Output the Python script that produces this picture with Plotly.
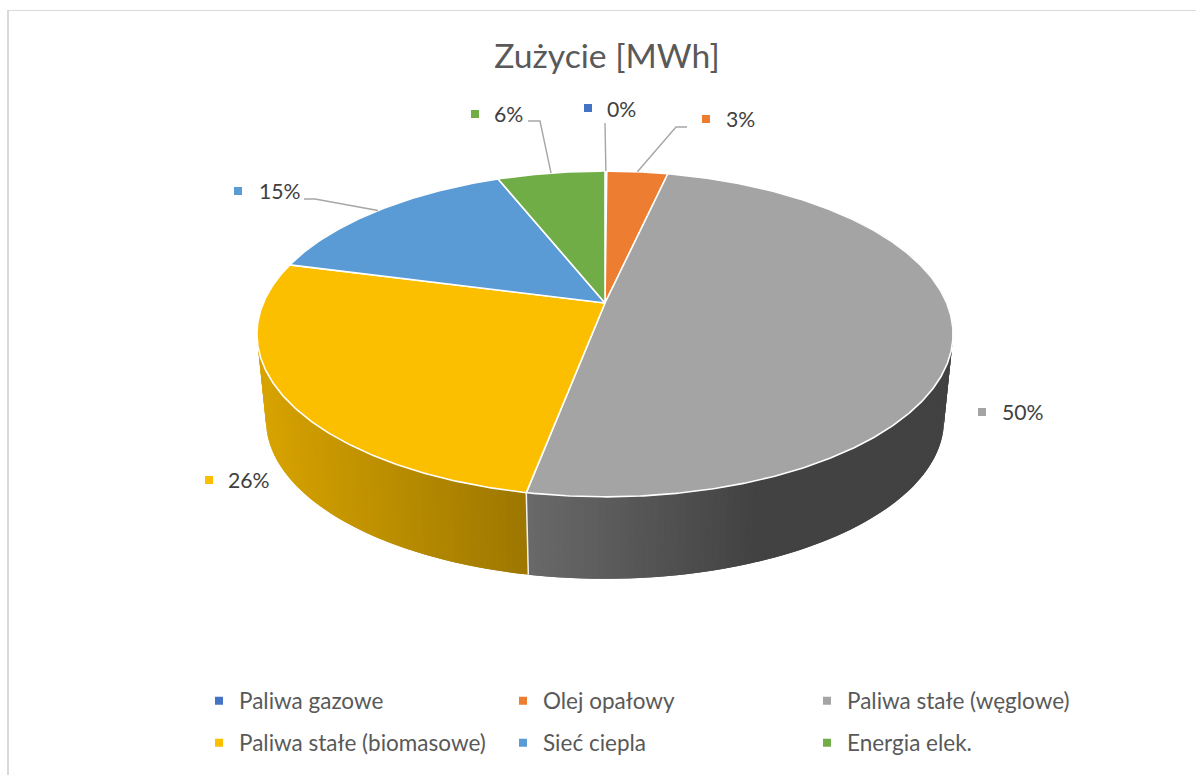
import math
import plotly.graph_objects as go

# ---- data ----
categories = ["Paliwa gazowe", "Olej opałowy", "Paliwa stałe (węglowe)",
              "Paliwa stałe (biomasowe)", "Sieć ciepla", "Energia elek."]
shares = [0.1, 3.4, 49.5, 26.1, 14.9, 6.0]
colors = ["#4472C4", "#ED7D31", "#A4A4A4", "#FCBF00", "#5B9BD5", "#70AD47"]
title_text = "Zużycie [MWh]"

# ---- layout of the picture (pixels) ----
W, H = 1196, 775
CX, TOP_Y, BOT_Y, BOT_SCALE = 605, 303, 390, 0.974
R, V, K = 341.7, 157.0, 0.19
FONT = "Lato"
label_marker_xy = [(588, 108), (706, 119), (982, 412), (209, 480), (238, 191), (475, 114)]
label_text_x = [607, 726, 1002, 228, 259, 494]
label_text_y = [111.5, 121.5, 414.5, 482.5, 193.5, 116.5]
leader_elbows = [[(605, 123)], [(687, 127), (676, 127)], None, None,
                 [(304, 199), (315, 199)], [(528, 121), (540, 121)]]
side_shade_x = [258, 527, 528, 760, 953]
side_shade_k = [0.855, 0.62, 0.64, 0.40, 0.40]


def project(theta, cy=TOP_Y, scale=1.0):
    x, y = math.sin(theta), math.cos(theta)
    d = 1 + K * y
    return CX + scale * R * x / d, cy - scale * V * y / d


def shade(x):
    if x <= side_shade_x[0]:
        return side_shade_k[0]
    for i in range(len(side_shade_x) - 1):
        if x <= side_shade_x[i + 1]:
            t = (x - side_shade_x[i]) / (side_shade_x[i + 1] - side_shade_x[i])
            return side_shade_k[i] + t * (side_shade_k[i + 1] - side_shade_k[i])
    return side_shade_k[-1]


def rgb(hexcol, k=1.0):
    return "rgb(%d,%d,%d)" % tuple(round(int(hexcol[i:i + 2], 16) * k) for i in (1, 3, 5))


total = sum(shares)
edges = [0.0]
for s in shares:
    edges.append(edges[-1] + s / total * 2 * math.pi)

fig = go.Figure()


def poly(xs, ys, fill, line="rgba(0,0,0,0)", width=0.0):
    fig.add_trace(go.Scatter(x=xs, y=ys, mode="lines", fill="toself", fillcolor=fill,
                             line=dict(color=line, width=width), hoverinfo="skip",
                             showlegend=False))


# side wall, built from thin overlapping slivers so its shading can change along the rim
step = math.radians(1.0)
for i, col in enumerate(colors):
    a0, a1 = max(edges[i], math.radians(50)), min(edges[i + 1], math.radians(310))
    if a1 <= a0:
        continue
    n = max(1, int(math.ceil((a1 - a0) / step)))
    for j in range(n):
        t0 = a0 + (a1 - a0) * j / n
        t1 = a0 + (a1 - a0) * (j + 1) / n
        t2 = t1 + step if j < n - 1 else t1
        p = [project(t0), project(t2), project(t2, BOT_Y, BOT_SCALE), project(t0, BOT_Y, BOT_SCALE)]
        c = rgb(col, shade((project(t0)[0] + project(t1)[0]) / 2))
        poly([q[0] for q in p] + [p[0][0]], [q[1] for q in p] + [p[0][1]], c)

# white seams on the wall
for e in edges[1:-1]:
    if math.radians(90) < e < math.radians(270):
        a, b = project(e), project(e, BOT_Y, BOT_SCALE)
        fig.add_trace(go.Scatter(x=[a[0], b[0]], y=[a[1], b[1]], mode="lines",
                                 line=dict(color="#F2F2F2", width=1.5), hoverinfo="skip",
                                 showlegend=False))

# top face
for i, col in enumerate(colors):
    a0, a1 = edges[i], edges[i + 1]
    n = max(2, int((a1 - a0) / math.radians(0.5)))
    pts = [project(a0 + (a1 - a0) * j / n) for j in range(n + 1)]
    xs = [CX] + [q[0] for q in pts] + [CX]
    ys = [TOP_Y] + [q[1] for q in pts] + [TOP_Y]
    poly(xs, ys, col, "#FFFFFF", 1.6)

# leader lines
for i, elbow in enumerate(leader_elbows):
    if not elbow:
        continue
    rim = project((edges[i] + edges[i + 1]) / 2)
    xs = [q[0] for q in elbow] + [rim[0]]
    ys = [q[1] for q in elbow] + [rim[1]]
    fig.add_trace(go.Scatter(x=xs, y=ys, mode="lines", line=dict(color="#A6A6A6", width=1.4),
                             hoverinfo="skip", showlegend=False))

# data labels
fig.add_trace(go.Scatter(x=[q[0] for q in label_marker_xy], y=[q[1] for q in label_marker_xy],
                         mode="markers", marker=dict(symbol="square", size=8, color=colors),
                         hoverinfo="skip", showlegend=False))
fig.add_trace(go.Scatter(x=label_text_x, y=label_text_y, mode="text",
                         text=["%d%%" % round(s / total * 100) for s in shares],
                         textposition="middle right",
                         textfont=dict(family=FONT, size=21.2, color="#404040"),
                         hoverinfo="skip", showlegend=False))

# legend
for i, (name, col) in enumerate(zip(categories, colors)):
    fig.add_trace(go.Scatter(x=[None], y=[None], mode="markers", name=name,
                             marker=dict(symbol="square", size=8, color=col),
                             legend="legend" if i < 3 else "legend2"))

legend_common = dict(orientation="h", xanchor="left", yanchor="middle", x=199 / W,
                     xref="container", yref="container",
                     entrywidth=259, entrywidthmode="pixels", traceorder="normal",
                     bgcolor="rgba(0,0,0,0)", itemclick=False, itemdoubleclick=False,
                     font=dict(family=FONT, size=22.5, color="#595959"))

fig.update_layout(
    width=W, height=H, margin=dict(l=0, r=0, t=0, b=0, autoexpand=False),
    paper_bgcolor="white", plot_bgcolor="white",
    title=dict(text=title_text, x=607 / W, xanchor="center", xref="paper",
               y=1 - 56.5 / H, yanchor="middle", yref="container",
               font=dict(family=FONT, size=33.7, color="#595959")),
    xaxis=dict(range=[0, W], visible=False, fixedrange=True),
    yaxis=dict(range=[H, 0], visible=False, fixedrange=True),
    legend=dict(y=1 - 701 / H, **legend_common),
    legend2=dict(y=1 - 743 / H, **legend_common),
    shapes=[
        dict(type="line", xref="x", yref="y", x0=8, x1=8, y0=10, y1=H,
             line=dict(color="#D9D9D9", width=2)),
        dict(type="line", xref="x", yref="y", x0=8, x1=W, y0=10.5, y1=10.5,
             line=dict(color="#D9D9D9", width=1)),
    ],
)

fig.write_html("out.html", config=dict(displayModeBar=False),
               post_script="document.body.style.margin='0';document.body.style.overflow='hidden';")
